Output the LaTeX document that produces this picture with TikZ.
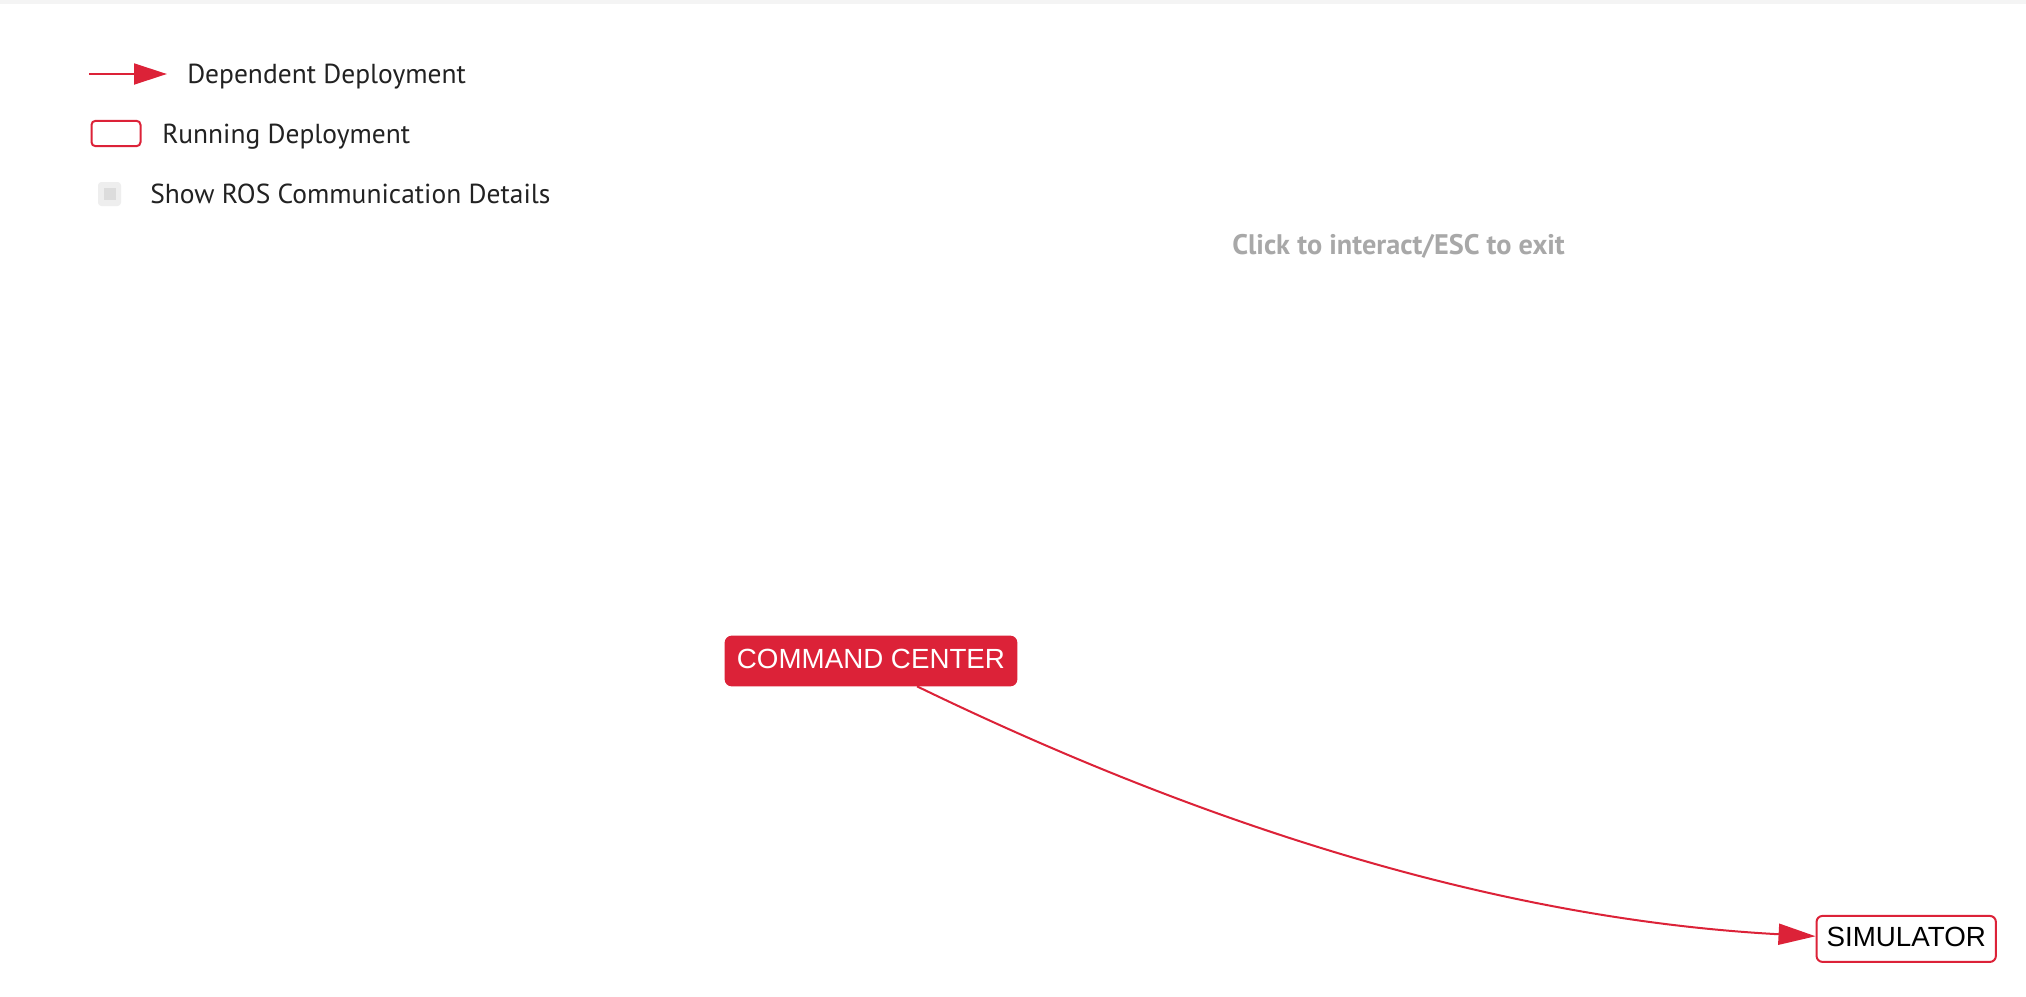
\documentclass[tikz,border=0pt]{standalone}
\usepackage{fontspec}
\setmainfont{Liberation Sans}
\newfontfamily\legendfont{PT Sans}
\usetikzlibrary{arrows.meta}
\definecolor{rosred}{HTML}{DC2238}
\definecolor{topstrip}{HTML}{F4F4F4}
\definecolor{boxgray}{HTML}{EEEEEE}
\definecolor{innergray}{HTML}{DCDCDC}
\definecolor{hintgray}{HTML}{A8A8A8}
\definecolor{legendtext}{HTML}{222222}
\tikzset{
  deploybox/.style={rounded corners=4.5pt, inner sep=0pt, line width=1.5pt,
    font=\fontsize{20.8pt}{24pt}\selectfont, text height=14.9pt, text depth=3pt},
  legendlabel/.style={anchor=base west, inner sep=0pt, text=legendtext,
    font=\legendfont\fontsize{20.6pt}{24pt}\selectfont},
  hintlabel/.style={anchor=base west, inner sep=0pt, text=hintgray,
    font=\legendfont\bfseries\fontsize{21.2pt}{24pt}\selectfont},
  depedge/.style={draw=rosred, line width=1.5pt,
    -{Triangle[length=27.75pt,width=15.75pt]}},
  legendarrow/.style={draw=rosred, line width=2.2pt,
    -{Triangle[length=24.75pt,width=15.5pt]}}
}
\begin{document}
\begin{tikzpicture}[x=0.75pt,y=-0.75pt]
  \useasboundingbox[fill=white] (0,0) rectangle (2026,996);
  \fill[topstrip] (0,0) rectangle (2026,4);

  % legend
  \coordinate (la1) at (89,74);
  \coordinate (la2) at (167,74);
  \draw[legendarrow] (la1) -- (la2);
  \node[legendlabel] (l1) at (187,83.3) {Dependent Deployment};

  \node[draw=rosred, line width=1.5pt, rounded corners=3pt, minimum width=36.75pt,
        minimum height=19pt, inner sep=0pt] (lbox) at (116,133.5) {};
  \node[legendlabel] (l2) at (162,143.3) {Running Deployment};

  \node[fill=boxgray, rounded corners=2.5pt, minimum width=17.25pt,
        minimum height=18pt, inner sep=0pt] (chk) at (109.5,194) {};
  \node[fill=innergray, minimum size=9pt, inner sep=0pt] (chkin) at (chk.center) {};
  \node[legendlabel] (l3) at (150,203.3) {Show ROS Communication Details};

  \node[hintlabel] (hint) at (1232,254) {Click to interact/ESC to exit};

  % deployments
  \node[deploybox, fill=rosred, draw=rosred, text=white,
        minimum width=218pt, minimum height=36.5pt] (cc) at (871,661) {COMMAND CENTER};
  \node[deploybox, fill=white, draw=rosred, text=black,
        minimum width=134.5pt, minimum height=34.5pt] (sim) at (1906.2,938.9) {SIMULATOR};

  \draw[depedge] ([xshift=34.5pt]cc.south) .. controls (1203,825) and (1497,919) .. ([yshift=2pt]sim.west);
\end{tikzpicture}
\end{document}
